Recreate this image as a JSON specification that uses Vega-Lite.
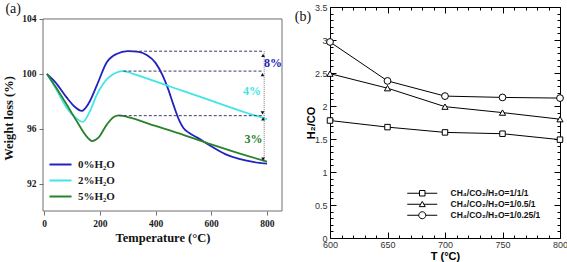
{
  "$schema": "https://vega.github.io/schema/vega-lite/v6.json",
  "padding": {"left": 2, "top": 1, "right": 0, "bottom": 0},
  "spacing": 11,
  "datasets": {
    "tga": [
      {"series": "0%H₂O", "T": 10, "W": 100}, {"series": "0%H₂O", "T": 40, "W": 99.4}, {"series": "0%H₂O", "T": 80, "W": 98.3}, {"series": "0%H₂O", "T": 110, "W": 97.6}, {"series": "0%H₂O", "T": 135, "W": 97.3}, {"series": "0%H₂O", "T": 160, "W": 97.85}, {"series": "0%H₂O", "T": 190, "W": 99.2}, {"series": "0%H₂O", "T": 225, "W": 100.85}, {"series": "0%H₂O", "T": 260, "W": 101.45}, {"series": "0%H₂O", "T": 300, "W": 101.65}, {"series": "0%H₂O", "T": 340, "W": 101.6}, {"series": "0%H₂O", "T": 370, "W": 101.35}, {"series": "0%H₂O", "T": 400, "W": 100.8}, {"series": "0%H₂O", "T": 425, "W": 99.9}, {"series": "0%H₂O", "T": 445, "W": 98.9}, {"series": "0%H₂O", "T": 465, "W": 97.7}, {"series": "0%H₂O", "T": 485, "W": 96.6}, {"series": "0%H₂O", "T": 500, "W": 96.05}, {"series": "0%H₂O", "T": 520, "W": 95.7}, {"series": "0%H₂O", "T": 550, "W": 95.35}, {"series": "0%H₂O", "T": 600, "W": 94.72}, {"series": "0%H₂O", "T": 650, "W": 94.15}, {"series": "0%H₂O", "T": 700, "W": 93.8}, {"series": "0%H₂O", "T": 750, "W": 93.58}, {"series": "0%H₂O", "T": 800, "W": 93.45},
      {"series": "2%H₂O", "T": 10, "W": 100}, {"series": "2%H₂O", "T": 40, "W": 99.0}, {"series": "2%H₂O", "T": 80, "W": 97.55}, {"series": "2%H₂O", "T": 110, "W": 96.85}, {"series": "2%H₂O", "T": 139, "W": 96.5}, {"series": "2%H₂O", "T": 165, "W": 97.3}, {"series": "2%H₂O", "T": 190, "W": 98.5}, {"series": "2%H₂O", "T": 230, "W": 99.7}, {"series": "2%H₂O", "T": 260, "W": 100.1}, {"series": "2%H₂O", "T": 285, "W": 100.2}, {"series": "2%H₂O", "T": 320, "W": 100.0}, {"series": "2%H₂O", "T": 400, "W": 99.45}, {"series": "2%H₂O", "T": 470, "W": 98.95}, {"series": "2%H₂O", "T": 550, "W": 98.4}, {"series": "2%H₂O", "T": 640, "W": 97.75}, {"series": "2%H₂O", "T": 720, "W": 97.2}, {"series": "2%H₂O", "T": 800, "W": 96.7},
      {"series": "5%H₂O", "T": 10, "W": 100}, {"series": "5%H₂O", "T": 40, "W": 99.1}, {"series": "5%H₂O", "T": 80, "W": 97.8}, {"series": "5%H₂O", "T": 120, "W": 96.45}, {"series": "5%H₂O", "T": 150, "W": 95.5}, {"series": "5%H₂O", "T": 172, "W": 95.1}, {"series": "5%H₂O", "T": 195, "W": 95.35}, {"series": "5%H₂O", "T": 225, "W": 96.3}, {"series": "5%H₂O", "T": 250, "W": 96.85}, {"series": "5%H₂O", "T": 268, "W": 96.97}, {"series": "5%H₂O", "T": 300, "W": 96.85}, {"series": "5%H₂O", "T": 400, "W": 96.2}, {"series": "5%H₂O", "T": 500, "W": 95.55}, {"series": "5%H₂O", "T": 600, "W": 94.85}, {"series": "5%H₂O", "T": 700, "W": 94.2}, {"series": "5%H₂O", "T": 800, "W": 93.6}
    ],
    "tgaRef": [
      {"T1": 305, "T2": 790, "W": 101.65},
      {"T1": 285, "T2": 786, "W": 100.2},
      {"T1": 268, "T2": 790, "W": 96.95}
    ],
    "tgaSpan": [{"T": 790, "W1": 101.65, "W2": 93.5}],
    "tgaArrow": [
      {"T": 786, "W": 101.35, "dir": "up"},
      {"T": 784, "W": 99.95, "dir": "up"},
      {"T": 784, "W": 97.15, "dir": "down"},
      {"T": 786, "W": 96.72, "dir": "up"},
      {"T": 786, "W": 93.78, "dir": "down"}
    ],
    "tgaPct": [
      {"label": "8%", "series": "0%H₂O", "T": 822, "W": 100.78},
      {"label": "4%", "series": "2%H₂O", "T": 746, "W": 98.74},
      {"label": "3%", "series": "5%H₂O", "T": 752, "W": 95.22}
    ],
    "tagA": [{"label": "(a)", "T": -111, "W": 104.73}],
    "tagB": [{"label": "(b)", "T": 576.5, "R": 3.35}],
    "ratio": [
      {"series": "CH₄/CO₂/H₂O=1/1/1", "T": 600, "R": 1.78}, {"series": "CH₄/CO₂/H₂O=1/1/1", "T": 650, "R": 1.68}, {"series": "CH₄/CO₂/H₂O=1/1/1", "T": 700, "R": 1.6}, {"series": "CH₄/CO₂/H₂O=1/1/1", "T": 750, "R": 1.58}, {"series": "CH₄/CO₂/H₂O=1/1/1", "T": 800, "R": 1.49},
      {"series": "CH₄/CO₂/H₂O=1/0.5/1", "T": 600, "R": 2.49}, {"series": "CH₄/CO₂/H₂O=1/0.5/1", "T": 650, "R": 2.27}, {"series": "CH₄/CO₂/H₂O=1/0.5/1", "T": 700, "R": 1.99}, {"series": "CH₄/CO₂/H₂O=1/0.5/1", "T": 750, "R": 1.9}, {"series": "CH₄/CO₂/H₂O=1/0.5/1", "T": 800, "R": 1.8},
      {"series": "CH₄/CO₂/H₂O=1/0.25/1", "T": 600, "R": 2.97}, {"series": "CH₄/CO₂/H₂O=1/0.25/1", "T": 650, "R": 2.38}, {"series": "CH₄/CO₂/H₂O=1/0.25/1", "T": 700, "R": 2.15}, {"series": "CH₄/CO₂/H₂O=1/0.25/1", "T": 750, "R": 2.13}, {"series": "CH₄/CO₂/H₂O=1/0.25/1", "T": 800, "R": 2.12}
    ]
  },
  "resolve": {
    "scale": {"color": "independent", "shape": "independent", "size": "independent", "x": "independent", "y": "independent"},
    "legend": {"color": "independent", "shape": "independent"}
  },
  "hconcat": [
    {
      "width": 239,
      "height": 204,
      "view": {"stroke": null},
      "layer": [
        {
          "data": {"values": [{}]},
          "mark": {"type": "rect", "filled": false, "stroke": "#6e6e6e", "strokeWidth": 1},
          "encoding": {
            "x": {"datum": -4, "type": "quantitative"},
            "x2": {"datum": 854},
            "y": {"datum": 90, "type": "quantitative"},
            "y2": {"datum": 104}
          }
        },
        {
          "data": {"name": "tga"},
          "mark": {"type": "line", "interpolate": "monotone", "strokeWidth": 1.8},
          "encoding": {
            "x": {
              "field": "T", "type": "quantitative",
              "scale": {"domain": [-4, 854], "nice": false, "zero": false},
              "axis": {"values": [0, 200, 400, 600, 800], "title": "Temperature (°C)", "grid": false, "domain": false, "tickSize": 4, "tickColor": "#6e6e6e", "labelFont": "Liberation Serif", "labelFontWeight": "bold", "labelFontSize": 9.5, "labelColor": "#1a1a1a", "labelPadding": 3, "labelFlush": false, "titleFont": "Liberation Serif", "titleFontWeight": "bold", "titleFontSize": 12.5, "titleColor": "#111", "titlePadding": 4}
            },
            "y": {
              "field": "W", "type": "quantitative",
              "scale": {"domain": [90, 104.873], "nice": false, "zero": false},
              "axis": {"values": [92, 96, 100, 104], "title": "Weight loss (%)", "titleY": 111, "grid": false, "domain": false, "tickSize": 4, "tickColor": "#6e6e6e", "labelFont": "Liberation Serif", "labelFontWeight": "bold", "labelFontSize": 9.5, "labelColor": "#1a1a1a", "labelPadding": 3, "labelFlush": false, "titleFont": "Liberation Serif", "titleFontWeight": "bold", "titleFontSize": 12.5, "titleColor": "#111", "titlePadding": 6}
            },
            "color": {
              "field": "series", "type": "nominal",
              "scale": {"domain": ["0%H₂O", "2%H₂O", "5%H₂O"], "range": ["#2222c0", "#40e6e6", "#2a822a"]},
              "legend": {"title": null, "orient": "none", "legendX": 12, "legendY": 152, "padding": 0, "symbolType": "M-3,0H3", "symbolSize": 54, "symbolStrokeWidth": 2, "labelFont": "Liberation Serif", "labelFontWeight": "bold", "labelFontSize": 11, "labelColor": "#1a1a1a", "labelOffset": 12, "rowPadding": 4}
            }
          }
        },
        {
          "data": {"name": "tgaRef"},
          "mark": {"type": "rule", "strokeDash": [3, 2], "color": "#3a3a6a", "strokeWidth": 1},
          "encoding": {
            "x": {"field": "T1", "type": "quantitative"},
            "x2": {"field": "T2"},
            "y": {"field": "W", "type": "quantitative"}
          }
        },
        {
          "data": {"name": "tgaSpan"},
          "mark": {"type": "rule", "strokeDash": [1, 1], "color": "#777777", "strokeWidth": 1},
          "encoding": {
            "x": {"field": "T", "type": "quantitative"},
            "y": {"field": "W1", "type": "quantitative"},
            "y2": {"field": "W2"}
          }
        },
        {
          "data": {"name": "tgaArrow"},
          "mark": {"type": "point", "filled": true, "color": "#111111", "size": 14, "opacity": 1},
          "encoding": {
            "x": {"field": "T", "type": "quantitative"},
            "y": {"field": "W", "type": "quantitative"},
            "shape": {"field": "dir", "type": "nominal", "scale": {"domain": ["up", "down"], "range": ["triangle-up", "triangle-down"]}, "legend": null}
          }
        },
        {
          "data": {"name": "tgaPct"},
          "mark": {"type": "text", "font": "Liberation Serif", "fontWeight": "bold", "fontSize": 12},
          "encoding": {
            "x": {"field": "T", "type": "quantitative"},
            "y": {"field": "W", "type": "quantitative"},
            "text": {"field": "label"},
            "color": {"field": "series", "type": "nominal", "legend": null}
          }
        },
        {
          "data": {"name": "tagA"},
          "mark": {"type": "text", "font": "Liberation Serif", "fontSize": 14, "color": "#111"},
          "encoding": {
            "x": {"field": "T", "type": "quantitative"},
            "y": {"field": "W", "type": "quantitative"},
            "text": {"field": "label"}
          }
        }
      ]
    },
    {
      "width": 230,
      "height": 231,
      "view": {"stroke": "#000000", "strokeWidth": 1},
      "resolve": {"axis": {"x": "independent", "y": "independent"}, "scale": {"shape": "independent"}, "legend": {"shape": "independent"}},
      "layer": [
        {
          "data": {"name": "ratio"},
          "mark": {"type": "line", "color": "#000000", "strokeWidth": 1},
          "encoding": {
            "x": {
              "field": "T", "type": "quantitative",
              "scale": {"domain": [600, 800], "nice": false, "zero": false},
              "axis": {"orient": "bottom", "values": [600, 610, 620, 630, 640, 650, 660, 670, 680, 690, 700, 710, 720, 730, 740, 750, 760, 770, 780, 790, 800], "title": "T (°C)", "grid": false, "domain": false, "tickColor": "#000", "tickSize": {"condition": {"test": "datum.value % 50 === 0", "value": -6}, "value": -3}, "labelExpr": "datum.value % 50 === 0 ? datum.label : ''", "labelFont": "Liberation Sans", "labelFontSize": 9, "labelColor": "#333", "labelPadding": 8, "labelFlush": false, "labelOverlap": false, "titleFont": "Liberation Sans", "titleFontWeight": "bold", "titleFontSize": 11, "titleColor": "#000", "titlePadding": -2}
            },
            "y": {
              "field": "R", "type": "quantitative",
              "scale": {"domain": [0, 3.5], "nice": false, "zero": false},
              "axis": {"orient": "left", "values": [0, 0.1, 0.2, 0.3, 0.4, 0.5, 0.6, 0.7, 0.8, 0.9, 1, 1.1, 1.2, 1.3, 1.4, 1.5, 1.6, 1.7, 1.8, 1.9, 2, 2.1, 2.2, 2.3, 2.4, 2.5, 2.6, 2.7, 2.8, 2.9, 3, 3.1, 3.2, 3.3, 3.4, 3.5], "title": "H₂/CO", "grid": false, "domain": false, "tickColor": "#000", "tickSize": {"condition": {"test": "datum.value % 0.5 === 0", "value": -6}, "value": -3}, "labelExpr": "datum.value % 0.5 === 0 ? '' + datum.value : ''", "labelFont": "Liberation Sans", "labelFontSize": 9, "labelColor": "#333", "labelPadding": 9, "labelFlush": false, "labelOverlap": false, "titleFont": "Liberation Sans", "titleFontWeight": "bold", "titleFontSize": 11, "titleColor": "#000", "titlePadding": -2}
            },
            "detail": {"field": "series", "type": "nominal"}
          }
        },
        {
          "data": {"name": "ratio"},
          "mark": {"type": "point", "filled": true, "fill": "#ffffff", "stroke": "#000000", "strokeWidth": 1, "opacity": 1},
          "encoding": {
            "x": {
              "field": "T", "type": "quantitative",
              "scale": {"domain": [600, 800], "nice": false, "zero": false},
              "axis": {"orient": "top", "values": [600, 610, 620, 630, 640, 650, 660, 670, 680, 690, 700, 710, 720, 730, 740, 750, 760, 770, 780, 790, 800], "labels": false, "title": null, "grid": false, "domain": false, "tickColor": "#000", "tickSize": {"condition": {"test": "datum.value % 50 === 0", "value": -6}, "value": -3}}
            },
            "y": {
              "field": "R", "type": "quantitative",
              "scale": {"domain": [0, 3.5], "nice": false, "zero": false},
              "axis": {"orient": "right", "values": [0, 0.1, 0.2, 0.3, 0.4, 0.5, 0.6, 0.7, 0.8, 0.9, 1, 1.1, 1.2, 1.3, 1.4, 1.5, 1.6, 1.7, 1.8, 1.9, 2, 2.1, 2.2, 2.3, 2.4, 2.5, 2.6, 2.7, 2.8, 2.9, 3, 3.1, 3.2, 3.3, 3.4, 3.5], "labels": false, "title": null, "grid": false, "domain": false, "tickColor": "#000", "tickSize": {"condition": {"test": "datum.value % 0.5 === 0", "value": -6}, "value": -3}}
            },
            "shape": {
              "field": "series", "type": "nominal",
              "scale": {"domain": ["CH₄/CO₂/H₂O=1/1/1", "CH₄/CO₂/H₂O=1/0.5/1", "CH₄/CO₂/H₂O=1/0.25/1"], "range": ["square", "triangle-up", "circle"]},
              "legend": null
            },
            "size": {
              "field": "series", "type": "nominal",
              "scale": {"domain": ["CH₄/CO₂/H₂O=1/0.25/1", "CH₄/CO₂/H₂O=1/0.5/1", "CH₄/CO₂/H₂O=1/1/1"], "range": [46, 30, 30]},
              "legend": null
            }
          }
        },
        {
          "data": {"name": "ratio"},
          "mark": {"type": "point", "filled": false, "color": "#000000", "strokeWidth": 1, "opacity": 0},
          "encoding": {
            "x": {"field": "T", "type": "quantitative", "axis": null},
            "y": {"field": "R", "type": "quantitative", "axis": null},
            "shape": {
              "field": "series", "type": "nominal",
              "scale": {"domain": ["CH₄/CO₂/H₂O=1/1/1", "CH₄/CO₂/H₂O=1/0.5/1", "CH₄/CO₂/H₂O=1/0.25/1"], "range": ["M-5,0H-0.92M0.92,0H5M-0.92,-0.92H0.92V0.92H-0.92Z", "M-5,0H-0.54M0.54,0H5M0,-0.95L1,0.8H-1Z", "M-5,0H-1.17M1.17,0H5M-1.17,0A1.17,1.17,0,1,0,1.17,0A1.17,1.17,0,1,0,-1.17,0Z"]},
              "legend": {
                "title": null, "orient": "none", "legendX": 88, "legendY": 182, "padding": 0,
                "symbolSize": 36, "symbolFillColor": "#ffffff", "symbolStrokeColor": "#000000", "symbolStrokeWidth": 1, "symbolOpacity": 1,
                "labelFont": "Liberation Sans", "labelFontWeight": "bold", "labelFontSize": 8.5, "labelColor": "#111", "labelOffset": 24, "rowPadding": 0,
                "encode": {"symbols": {"opacity": {"value": 1}, "stroke": {"value": "#000000"}, "fill": {"value": "#ffffff"}, "strokeWidth": {"value": 1}}}
              }
            }
          }
        },
        {
          "data": {"name": "tagB"},
          "mark": {"type": "text", "font": "Liberation Serif", "fontSize": 14, "color": "#111"},
          "encoding": {
            "x": {"field": "T", "type": "quantitative", "axis": null},
            "y": {"field": "R", "type": "quantitative", "axis": null},
            "text": {"field": "label"}
          }
        }
      ]
    }
  ]
}
